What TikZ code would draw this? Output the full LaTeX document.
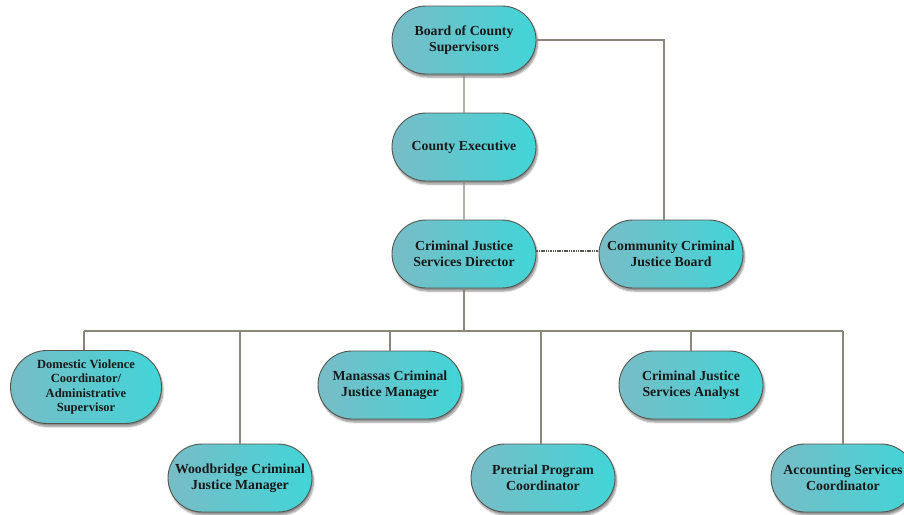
\documentclass[tikz,border=0pt]{standalone}
\usepackage{fontspec}
\setmainfont{Liberation Serif}
\usetikzlibrary{shapes.misc,shadows.blur}
\definecolor{boxL}{HTML}{78BCC6}
\definecolor{boxR}{HTML}{42D5D8}
\definecolor{boxEdge}{HTML}{55564E}
\definecolor{wire}{HTML}{8A8679}
\begin{document}
\begin{tikzpicture}[x=1pt,y=-1pt,
  pill/.style={rounded rectangle, draw=boxEdge, line width=0.9pt,
    left color=boxL, right color=boxR,
    minimum width=148pt, minimum height=68pt, inner sep=2pt,
    align=center, font=\fontsize{13.8}{16.5}\selectfont\bfseries, text=black!90,
    blur shadow={shadow xshift=1.5pt, shadow yshift=-3pt, shadow blur steps=6, shadow opacity=45}},
  wireline/.style={draw=wire, line width=1.3pt},
  dotline/.style={draw=boxEdge, line width=1.1pt, dash pattern=on 1.5pt off 0.8pt}]
\useasboundingbox (0,0) rectangle (904,514);
\clip (0,0) rectangle (904,514);

% fixed points of the connector network
\coordinate (busL) at (84,331);
\coordinate (busR) at (843,331);
\coordinate (corner) at (664,40);

\node[pill] (board) at (464,40) {Board of County\\Supervisors};
\node[pill] (exec) at (464,147) {County Executive};
\node[pill] (dir) at (464,254) {Criminal Justice\\Services Director};
\node[pill] (ccjb) at (671,254) {Community Criminal\\Justice Board};

\node[pill, minimum width=155pt, minimum height=73pt, font=\fontsize{12.5}{14.5}\selectfont\bfseries] (dv) at (86,387) {Domestic Violence\\Coordinator/\\Administrative\\Supervisor};
\node[pill] (man) at (390,385) {Manassas Criminal\\Justice Manager};
\node[pill] (ana) at (691,385) {Criminal Justice\\Services Analyst};
\node[pill] (wood) at (240,478) {Woodbridge Criminal\\Justice Manager};
\node[pill] (pre) at (543,478) {Pretrial Program\\Coordinator};
\node[pill] (acc) at (843,478) {Accounting Services\\Coordinator};

\draw[wireline] (board) -- (exec);
\draw[wireline] (exec) -- (dir);
\draw[wireline] (board.east) -- (corner) -- (corner |- ccjb.north);
\draw[dotline] ([yshift=3pt]dir.east) -- ([yshift=3pt]ccjb.west);
\draw[wireline] (dir.south) -- (dir.south |- busL);
\draw[wireline] (busL) -- (busR);
\draw[wireline] (busL) -- (busL |- dv.north);
\draw[wireline] (240,331) -- (wood.north);
\draw[wireline] (390,331) -- (man.north);
\draw[wireline] (541,331) -- (541,0 |- pre.north);
\draw[wireline] (691,331) -- (ana.north);
\draw[wireline] (busR) -- (acc.north);
\end{tikzpicture}
\end{document}
